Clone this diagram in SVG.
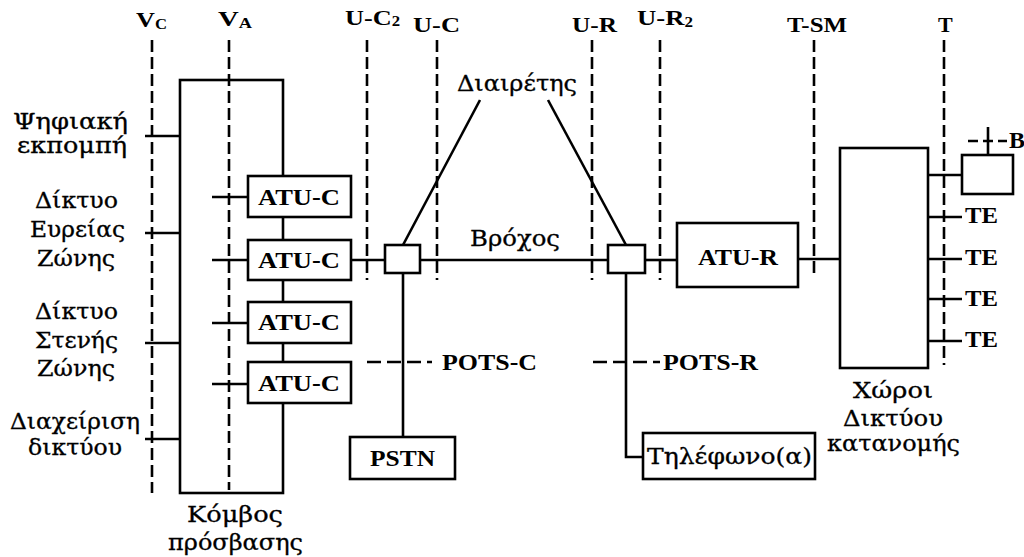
<svg xmlns="http://www.w3.org/2000/svg" width="1024" height="557" viewBox="0 0 1024 557">
<style>
.s{stroke:#000;stroke-width:2.6;fill:none}
.b{stroke:#000;stroke-width:2.6;fill:#fff}
.d{stroke:#000;stroke-width:2.6;fill:none;stroke-dasharray:12 5}
.g{font-family:"DejaVu Serif","Liberation Serif",serif;font-size:22px;fill:#000;stroke:#000;stroke-width:0.3}
.l{font-family:"Liberation Serif","DejaVu Serif",serif;font-weight:bold;font-size:24px;fill:#000}
.t{font-family:"Liberation Serif","DejaVu Serif",serif;font-weight:bold;font-size:22px;fill:#000}
.sub{font-size:14px}
</style>
<rect width="1024" height="557" fill="#fff"/>

<g id="reference-points">
<line class="d" x1="152" y1="40" x2="152" y2="493"/>
<line class="d" x1="229" y1="40" x2="229" y2="490"/>
<line class="d" x1="367" y1="40" x2="367" y2="280"/>
<line class="d" x1="437" y1="40" x2="437" y2="280"/>
<line class="d" x1="592" y1="40" x2="592" y2="280"/>
<line class="d" x1="660" y1="40" x2="660" y2="280"/>
<line class="d" x1="814" y1="40" x2="814" y2="278"/>
<line class="d" x1="944" y1="40" x2="944" y2="365"/>
<text class="t" x="136" y="27" textLength="31" lengthAdjust="spacingAndGlyphs">V<tspan class="sub" dy="2">C</tspan></text>
<text class="t" x="218" y="26" textLength="34" lengthAdjust="spacingAndGlyphs">V<tspan class="sub" dy="2">A</tspan></text>
<text class="t" x="345" y="25" textLength="55" lengthAdjust="spacingAndGlyphs">U-C<tspan class="sub" dy="1">2</tspan></text>
<text class="t" x="413" y="32" textLength="47" lengthAdjust="spacingAndGlyphs">U-C</text>
<text class="t" x="572" y="32" textLength="45" lengthAdjust="spacingAndGlyphs">U-R</text>
<text class="t" x="637" y="25" textLength="56" lengthAdjust="spacingAndGlyphs">U-R<tspan class="sub" dy="2">2</tspan></text>
<text class="t" x="787" y="32" textLength="60" lengthAdjust="spacingAndGlyphs">T-SM</text>
<text class="t" x="938" y="32">T</text>
</g>

<g id="connectors">
<line class="s" x1="145" y1="136" x2="180" y2="136"/>
<line class="s" x1="145" y1="233" x2="180" y2="233"/>
<line class="s" x1="145" y1="343" x2="180" y2="343"/>
<line class="s" x1="145" y1="439" x2="180" y2="439"/>
<line class="s" x1="212" y1="197" x2="248" y2="197"/>
<line class="s" x1="212" y1="260" x2="248" y2="260"/>
<line class="s" x1="212" y1="323" x2="248" y2="323"/>
<line class="s" x1="212" y1="384" x2="248" y2="384"/>
<line class="s" x1="351" y1="260" x2="385" y2="260"/>
<line class="s" x1="420" y1="260" x2="608" y2="260"/>
<line class="s" x1="645" y1="260" x2="677" y2="260"/>
<line class="s" x1="798" y1="259" x2="840" y2="259"/>
<line class="s" x1="480" y1="100" x2="403" y2="245"/>
<line class="s" x1="548" y1="100" x2="626" y2="245"/>
<line class="s" x1="403" y1="273" x2="403" y2="437"/>
<polyline class="s" points="626,273 626,457 643,457"/>
<line class="d" x1="367" y1="362" x2="432" y2="362" style="stroke-dasharray:14 6"/>
<line class="d" x1="593" y1="362" x2="660" y2="362" style="stroke-dasharray:14 6"/>
<line class="s" x1="928" y1="175" x2="962" y2="175"/>
<line class="s" x1="988" y1="155" x2="988" y2="127"/>
<line class="d" x1="968" y1="141" x2="1007" y2="141" style="stroke-dasharray:10 5"/>
<line class="s" x1="928" y1="217" x2="962" y2="217"/>
<line class="s" x1="928" y1="259" x2="962" y2="259"/>
<line class="s" x1="928" y1="299" x2="962" y2="299"/>
<line class="s" x1="928" y1="341" x2="962" y2="341"/>
</g>

<g id="access-node">
<rect class="s" x="180" y="80" width="103" height="413"/>
<text class="g" x="187" y="522" textLength="96" lengthAdjust="spacingAndGlyphs">Κόμβος</text>
<text class="g" x="168" y="550" textLength="135" lengthAdjust="spacingAndGlyphs">πρόσβασης</text>
</g>

<g id="left-labels">
<text class="g" x="13" y="129" textLength="115" lengthAdjust="spacingAndGlyphs">Ψηφιακή</text>
<text class="g" x="17" y="153" textLength="110" lengthAdjust="spacingAndGlyphs">εκπομπή</text>
<text class="g" x="35" y="208" textLength="83" lengthAdjust="spacingAndGlyphs">Δίκτυο</text>
<text class="g" x="30" y="237" textLength="95" lengthAdjust="spacingAndGlyphs">Ευρείας</text>
<text class="g" x="37" y="266" textLength="78" lengthAdjust="spacingAndGlyphs">Ζώνης</text>
<text class="g" x="35" y="319" textLength="83" lengthAdjust="spacingAndGlyphs">Δίκτυο</text>
<text class="g" x="35" y="348" textLength="83" lengthAdjust="spacingAndGlyphs">Στενής</text>
<text class="g" x="37" y="376" textLength="78" lengthAdjust="spacingAndGlyphs">Ζώνης</text>
<text class="g" x="10" y="429" textLength="130" lengthAdjust="spacingAndGlyphs">Διαχείριση</text>
<text class="g" x="28" y="455" textLength="94" lengthAdjust="spacingAndGlyphs">δικτύου</text>
</g>

<g id="atu-c-1"><rect class="b" x="248" y="176" width="103" height="41"/><text class="l" x="258" y="205" textLength="82" lengthAdjust="spacingAndGlyphs">ATU-C</text></g>
<g id="atu-c-2"><rect class="b" x="248" y="240" width="103" height="40"/><text class="l" x="258" y="268" textLength="82" lengthAdjust="spacingAndGlyphs">ATU-C</text></g>
<g id="atu-c-3"><rect class="b" x="248" y="302" width="103" height="41"/><text class="l" x="258" y="330" textLength="82" lengthAdjust="spacingAndGlyphs">ATU-C</text></g>
<g id="atu-c-4"><rect class="b" x="248" y="362" width="103" height="41"/><text class="l" x="258" y="391" textLength="82" lengthAdjust="spacingAndGlyphs">ATU-C</text></g>

<g id="splitter-c"><rect class="b" x="385" y="245" width="35" height="28"/></g>
<g id="splitter-r"><rect class="b" x="608" y="245" width="37" height="28"/></g>
<g id="splitter-label"><text class="g" x="457" y="91" textLength="120" lengthAdjust="spacingAndGlyphs">Διαιρέτης</text></g>
<g id="loop-label"><text class="g" x="470" y="246" textLength="90" lengthAdjust="spacingAndGlyphs">Βρόχος</text></g>
<g id="pots-c"><text class="l" x="442" y="370" textLength="95" lengthAdjust="spacingAndGlyphs">POTS-C</text></g>
<g id="pots-r"><text class="l" x="663" y="370" textLength="95" lengthAdjust="spacingAndGlyphs">POTS-R</text></g>

<g id="pstn"><rect class="b" x="350" y="437" width="105" height="42"/><text class="l" x="370" y="466" textLength="65" lengthAdjust="spacingAndGlyphs">PSTN</text></g>
<g id="telephone"><rect class="b" x="643" y="433" width="172" height="46"/><text class="g" x="647" y="464" textLength="165" lengthAdjust="spacingAndGlyphs">Τηλέφωνο(α)</text></g>

<g id="atu-r"><rect class="b" x="677" y="223" width="121" height="64"/><text class="l" x="698" y="265" textLength="80" lengthAdjust="spacingAndGlyphs">ATU-R</text></g>

<g id="premises-network">
<rect class="b" x="840" y="148" width="88" height="220"/>
<text class="g" x="853" y="398" textLength="80" lengthAdjust="spacingAndGlyphs">Χώροι</text>
<text class="g" x="843" y="426" textLength="100" lengthAdjust="spacingAndGlyphs">Δικτύου</text>
<text class="g" x="827" y="451" textLength="133" lengthAdjust="spacingAndGlyphs">κατανομής</text>
</g>

<g id="box-b"><rect class="b" x="962" y="155" width="51" height="39"/><text class="l" x="1009" y="148">B</text></g>

<g id="te">
<text class="l" x="965" y="223" textLength="33" lengthAdjust="spacingAndGlyphs">TE</text>
<text class="l" x="965" y="265" textLength="33" lengthAdjust="spacingAndGlyphs">TE</text>
<text class="l" x="965" y="306" textLength="33" lengthAdjust="spacingAndGlyphs">TE</text>
<text class="l" x="965" y="347" textLength="33" lengthAdjust="spacingAndGlyphs">TE</text>
</g>
</svg>
